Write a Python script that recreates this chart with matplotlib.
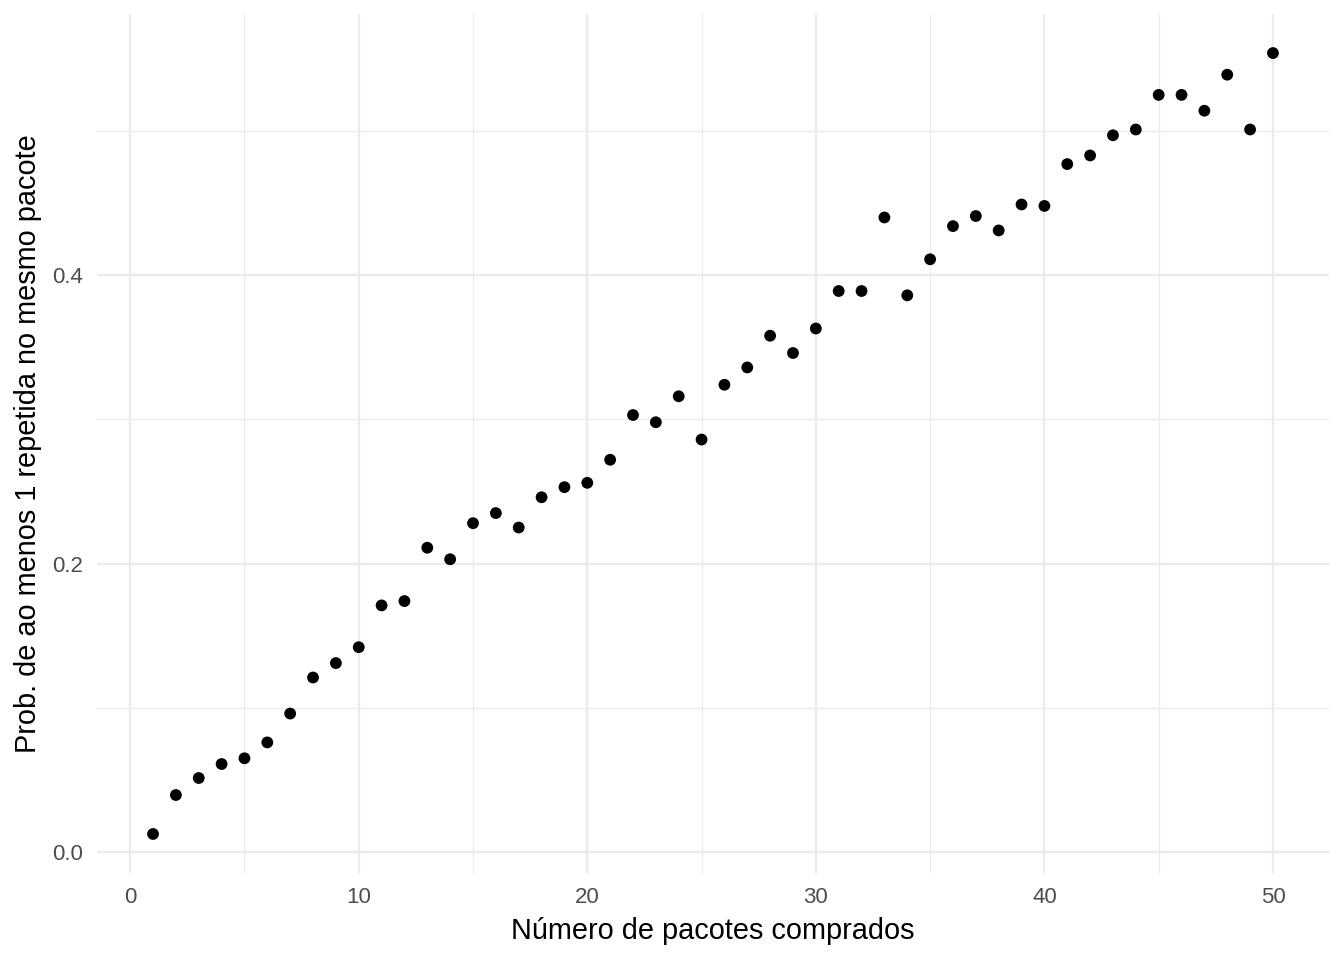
import matplotlib
matplotlib.use("Agg")
import matplotlib.pyplot as plt
import numpy as np

pacotes = list(range(1, 51))
prob = [0.0125, 0.0395, 0.0513, 0.061, 0.065, 0.076, 0.096, 0.121, 0.131, 0.142,
        0.171, 0.174, 0.211, 0.203, 0.228, 0.235, 0.225, 0.246, 0.253, 0.256,
        0.272, 0.303, 0.298, 0.316, 0.286, 0.324, 0.336, 0.358, 0.346, 0.363,
        0.389, 0.389, 0.440, 0.386, 0.411, 0.434, 0.441, 0.431, 0.449, 0.448,
        0.477, 0.483, 0.497, 0.501, 0.525, 0.525, 0.514, 0.539, 0.501, 0.554]
x_ticks = [0, 10, 20, 30, 40, 50]
x_minor = [5, 15, 25, 35, 45]
y_ticks = [0.0, 0.2, 0.4]
y_minor = [0.1, 0.3, 0.5]
y_labels = ["0.0", "0.2", "0.4"]

plt.rcParams['font.family'] = ['Liberation Sans', 'DejaVu Sans']

fig = plt.figure(figsize=(13.44, 9.6), dpi=100)
ax = fig.add_axes([0.0722, 0.0906, 0.9888 - 0.0722, 0.9854 - 0.0906])

xr = (min(pacotes), max(pacotes))
xe = (xr[1] - xr[0]) * 0.05
yr = (min(prob), max(prob))
ye = (yr[1] - yr[0]) * 0.05
ax.set_xlim(xr[0] - xe, xr[1] + xe)
ax.set_ylim(yr[0] - ye, yr[1] + ye)

for v in x_ticks:
    ax.axvline(v, color='#EBEBEB', lw=1.6, zorder=0)
for v in x_minor:
    ax.axvline(v, color='#EBEBEB', lw=0.9, zorder=0)
for v in y_ticks:
    ax.axhline(v, color='#EBEBEB', lw=1.6, zorder=0)
for v in y_minor:
    ax.axhline(v, color='#EBEBEB', lw=0.9, zorder=0)

ax.scatter(pacotes, prob, s=72, color='black', edgecolors='none', zorder=3)

ax.set_xticks(x_ticks)
ax.set_yticks(y_ticks)
ax.set_yticklabels(y_labels)
ax.tick_params(length=0, labelsize=16, labelcolor='#4D4D4D', pad=10)
for s in ax.spines.values():
    s.set_visible(False)

ax.set_xlabel("Número de pacotes comprados", fontsize=20.8, labelpad=6.5)
ax.set_ylabel("Prob. de ao menos 1 repetida no mesmo pacote", fontsize=20.8, labelpad=7.5)

fig.savefig("out.png", dpi=100)
